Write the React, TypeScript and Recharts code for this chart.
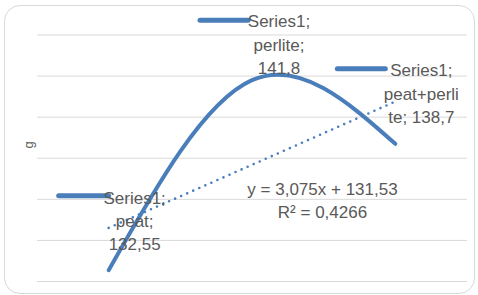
import React from "react";
import { ComposedChart, Line, XAxis, YAxis, CartesianGrid } from "recharts";

const categories = ["peat", "perlite", "peat+perlite"];
const seriesValues = [132.55, 141.8, 138.7];
const valueLabels = ["132,55", "141,8", "138,7"];
const trendValues = [134.61, 137.68, 140.76];
const yTicks = [132, 134, 136, 138, 140, 142, 144];
const labelLines = [
  ["Series1;", "peat;", "132,55"],
  ["Series1;", "perlite;", "141,8"],
  ["Series1;", "peat+perli", "te; 138,7"],
];

const data = categories.map((c, i) => ({
  x: i + 1,
  name: c,
  value: seriesValues[i],
  trend: trendValues[i],
  label: valueLabels[i],
}));

const BLUE = "#4a7ebb";
const GRAY = "#595959";
const FONT = "'Liberation Sans', Arial, sans-serif";

// layout offsets (relative to each point) for data label placement
const labelLayout = [
  { k0: -50, k1: 0, ky: -74.5, tx: 26, ly: [-72, -49, -26] },
  { k0: -52, k1: -4, ky: -60, tx: 27, ly: [-58.5, -35, -12] },
  { k0: -58, k1: -10, ky: -75, tx: 26, ly: [-73, -49, -26] },
];

const LabelDot = (props: any) => {
  const { cx, cy, index } = props;
  if (cx == null || cy == null) return <g key={"d" + index} />;
  const L = labelLayout[index];
  const lines = labelLines[index];
  return (
    <g key={"d" + index}>
      <line
        x1={cx + L.k0}
        x2={cx + L.k1}
        y1={cy + L.ky}
        y2={cy + L.ky}
        stroke={BLUE}
        strokeWidth={5}
        strokeLinecap="round"
      />
      {lines.map((t, j) => (
        <text
          key={j}
          x={cx + L.tx}
          y={cy + L.ly[j]}
          textAnchor="middle"
          dominantBaseline="central"
          fill={GRAY}
          fontSize={17}
          fontFamily={FONT}
        >
          {t}
        </text>
      ))}
    </g>
  );
};

export default function App() {
  return (
    <div
      style={{
        position: "absolute",
        left: 0,
        top: 0,
        width: 478,
        height: 295,
        background: "#ffffff",
        fontFamily: FONT,
      }}
    >
      <div
        style={{
          position: "absolute",
          left: 4,
          top: 5,
          width: 469,
          height: 287,
          border: "1px solid #d9d9d9",
          borderRadius: 16,
        }}
      />
      <div style={{ position: "absolute", left: 0, top: 0 }}>
        <ComposedChart
          width={478}
          height={295}
          data={data}
          margin={{ top: 35, right: 11, bottom: 13.5, left: 37 }}
        >
          <CartesianGrid vertical={false} stroke="#d9d9d9" strokeWidth={1} />
          <XAxis type="number" dataKey="x" domain={[0.5, 3.5]} hide />
          <YAxis domain={[132, 144]} ticks={yTicks} hide />
          <Line
            dataKey="trend"
            type="linear"
            stroke={BLUE}
            strokeWidth={2.6}
            strokeDasharray="0 6.6"
            strokeLinecap="round"
            dot={false}
            activeDot={false}
            isAnimationActive={false}
          />
          <Line
            dataKey="value"
            type="natural"
            stroke={BLUE}
            strokeWidth={4}
            strokeLinecap="round"
            dot={LabelDot}
            activeDot={false}
            isAnimationActive={false}
          />
        </ComposedChart>
      </div>
      <div
        style={{
          position: "absolute",
          left: 222.5,
          width: 200,
          top: 178,
          textAlign: "center",
          color: GRAY,
          fontSize: 17,
          lineHeight: "23px",
          whiteSpace: "nowrap",
        }}
      >
        <div>y = 3,075x + 131,53</div>
        <div>R² = 0,4266</div>
      </div>
      <div
        style={{
          position: "absolute",
          left: 27.5,
          top: 144.5,
          transform: "translate(-50%, -50%) rotate(-90deg)",
          color: GRAY,
          fontSize: 13,
          lineHeight: "13px",
        }}
      >
        g
      </div>
    </div>
  );
}
